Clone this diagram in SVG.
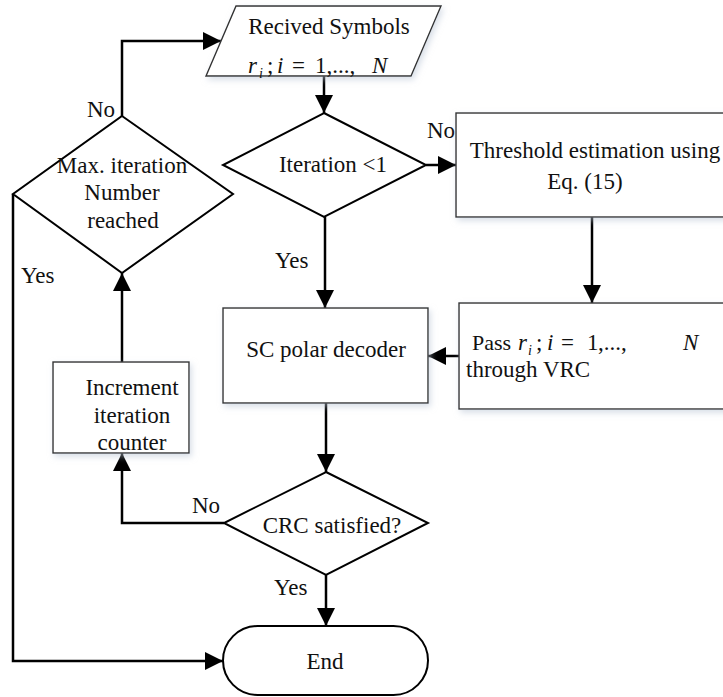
<svg xmlns="http://www.w3.org/2000/svg" width="723" height="697" viewBox="0 0 723 697">
<defs>
<marker id="arr" viewBox="0 0 18 18" refX="18" refY="9" markerWidth="18" markerHeight="18" markerUnits="userSpaceOnUse" orient="auto">
<path d="M0,0 L18,9 L0,18 z" fill="#000"/>
</marker>
<filter id="sh" x="-10%" y="-10%" width="130%" height="140%">
<feDropShadow dx="2" dy="3" stdDeviation="3" flood-color="#b7c3d3" flood-opacity="0.55"/>
</filter>
</defs>
<style>
.t{font-family:"Liberation Serif","Times New Roman",serif;font-size:23px;fill:#111}
.m{text-anchor:middle}
.i{font-style:italic}
.box{fill:#fff;stroke:#333;stroke-width:1.4;filter:url(#sh)}
.dia{fill:#fff;stroke:#000;stroke-width:2}
.c{fill:none;stroke:#000;stroke-width:2.5}
.ca{fill:none;stroke:#000;stroke-width:2.5;marker-end:url(#arr)}
</style>
<rect width="723" height="697" fill="#fff"/>

<g id="connectors">
<path class="ca" d="M324,76 L324,113"/>
<path class="ca" d="M426,165 L456,165"/>
<path class="ca" d="M592,217 L592,303"/>
<path class="ca" d="M459,356 L428,356"/>
<path class="ca" d="M325,217 L325,308"/>
<path class="ca" d="M326,403 L326,472"/>
<path class="ca" d="M326,575 L326,626"/>
<path class="ca" d="M224,523 L122,523 L122,453"/>
<path class="ca" d="M122,362 L122,273"/>
<path class="ca" d="M122,116 L122,41 L221,41"/>
<path class="ca" d="M13,194 L13,661 L223,661"/>
<text class="t" x="87" y="117">No</text>
<text class="t" x="21" y="283" font-size="22">Yes</text>
<text class="t" x="427" y="138">No</text>
<text class="t" x="275" y="268" font-size="22">Yes</text>
<text class="t" x="192" y="513">No</text>
<text class="t" x="274" y="595" font-size="22">Yes</text>
</g>

<g id="input">
<polygon class="box" points="236,6 441,6 411,76 206,76"/>
<text class="t m" x="329" y="34">Recived Symbols</text>
<text class="t" y="73"><tspan x="248" class="i">r</tspan><tspan x="259" y="78" font-size="14" font-style="italic">i</tspan><tspan x="267" y="73">;</tspan><tspan x="277" class="i">i</tspan><tspan x="292">=</tspan><tspan x="315">1,...,</tspan><tspan x="372" class="i">N</tspan></text>
</g>

<g id="iteration">
<polygon class="dia" points="324,113 426,165 324,217 223,165"/>
<text class="t m" x="333" y="172">Iteration &lt;1</text>
</g>

<g id="threshold">
<rect class="box" x="456" y="113" width="270" height="104"/>
<text class="t m" x="595" y="158">Threshold estimation using</text>
<text class="t m" x="585" y="189">Eq. (15)</text>
</g>

<g id="pass">
<rect class="box" x="459" y="303" width="270" height="106"/>
<text class="t" y="350"><tspan x="472" font-size="22">Pass</tspan><tspan x="518" class="i">r</tspan><tspan x="528" y="355" font-size="14" font-style="italic">i</tspan><tspan x="536" y="350">;</tspan><tspan x="547" class="i">i</tspan><tspan x="561">=</tspan><tspan x="587">1</tspan><tspan x="598">,...,</tspan><tspan x="683" class="i">N</tspan></text>
<text class="t" x="466" y="377">through VRC</text>
</g>

<g id="sc">
<rect class="box" x="223" y="308" width="205" height="95"/>
<text class="t m" x="326" y="357">SC polar decoder</text>
</g>

<g id="crc">
<polygon class="dia" points="326,472 428,523 326,575 224,523"/>
<text class="t m" x="332" y="533">CRC satisfied?</text>
</g>

<g id="increment">
<rect class="box" x="53" y="362" width="136" height="91"/>
<text class="t m" x="132" y="395">Increment</text>
<text class="t m" x="132" y="423">iteration</text>
<text class="t m" x="132" y="450">counter</text>
</g>

<g id="maxiter">
<polygon class="dia" points="122,116 233,194 122,273 13,194"/>
<text class="t m" x="122" y="173">Max. iteration</text>
<text class="t m" x="122" y="200">Number</text>
<text class="t m" x="123" y="228">reached</text>
</g>

<g id="end">
<rect x="223" y="626" width="205" height="69" rx="34.5" fill="#fff" stroke="#000" stroke-width="2"/>
<text class="t m" x="325" y="669">End</text>
</g>
</svg>
